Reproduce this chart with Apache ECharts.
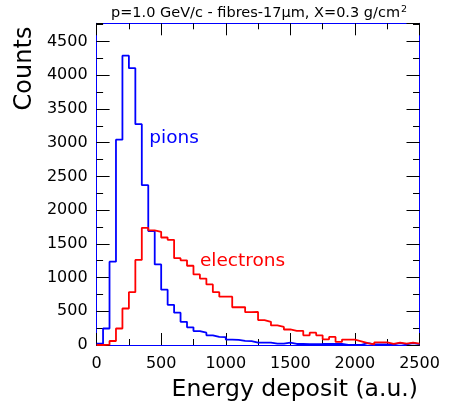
<!DOCTYPE html>
<html>
<head>
<meta charset="utf-8">
<script src="https://cdn.jsdelivr.net/npm/echarts@6/dist/echarts.min.js"></script>
<style>
  html, body { margin: 0; padding: 0; background: #fff; }
  #chart { width: 449px; height: 412px; }
</style>
</head>
<body>
<div id="chart"></div>
<script>
// Energy deposit histograms, 50 bins of 50 a.u. from 0 to 2500
const binStart = 0;
const binWidth = 50;

const pionCounts = [
  20, 245, 1235, 3045, 4290, 4105, 3275, 2370, 1690, 1195,
  820, 595, 480, 343, 262, 207, 183, 143, 120, 118,
  80, 75, 60, 58, 36, 35, 34, 20, 20, 35,
  15, 15, 14, 14, 15, 18, 15, 15, 3, 3,
  3, 28, 10, 10, 10, 8, 28, 10, 28, 12
];

const electronCounts = [
  0, 5, 59, 245, 541, 784, 1262, 1737, 1700, 1678,
  1594, 1559, 1288, 1255, 1175, 1046, 985, 898, 784, 716,
  716, 560, 562, 487, 490, 370, 343, 290, 268, 230,
  210, 210, 143, 183, 143, 84, 120, 47, 80, 80,
  55, 28, 8, 40, 40, 15, 35, 20, 35, 20
];

const xRange = [0, 2500];
const yRange = [0, 4770];

const seriesNames = ['pions', 'electrons'];
const seriesColors = ['#0000ff', '#ff0000'];

const FONT = 'DejaVu Sans';
const FRAME = '#0000ff';

// step outline: one point per bin lower edge plus the last upper edge
function histPoints(counts) {
  const pts = counts.map((c, i) => [binStart + i * binWidth, c]);
  pts.push([binStart + counts.length * binWidth, counts[counts.length - 1]]);
  return pts;
}

const plainNumber = v => String(v);

function xAx(pos, labels) {
  return {
    type: 'value', position: pos, min: xRange[0], max: xRange[1], interval: 500,
    axisLine: { show: true, onZero: false, lineStyle: { color: FRAME, width: 1 } },
    axisTick: { show: true, inside: true, length: 12, lineStyle: { color: '#000', width: 1 } },
    minorTick: { show: true, splitNumber: 2, length: 6, lineStyle: { color: '#000', width: 1 } },
    splitLine: { show: false }, minorSplitLine: { show: false },
    axisLabel: labels ? {
      show: true, margin: 11, color: '#000', fontFamily: FONT, fontSize: 16, formatter: plainNumber
    } : { show: false }
  };
}

function yAx(pos, interval, len, line, labels) {
  return {
    type: 'value', position: pos, min: yRange[0], max: yRange[1], interval: interval,
    axisLine: { show: line, onZero: false, lineStyle: { color: FRAME, width: 1 } },
    axisTick: { show: true, inside: true, length: len, lineStyle: { color: '#000', width: 1 } },
    splitLine: { show: false },
    axisLabel: labels ? {
      show: true, margin: 9, color: '#000', fontFamily: FONT, fontSize: 16,
      showMaxLabel: false, padding: [8, 0, 0, 0], formatter: plainNumber
    } : { show: false }
  };
}

const chart = echarts.init(document.getElementById('chart'), null, { renderer: 'canvas' });

chart.setOption({
  animation: false,
  backgroundColor: '#fff',
  grid: { left: 96.6, right: 29.5, top: 23.3, bottom: 67, containLabel: false },
  xAxis: [xAx('bottom', true), xAx('top', false)],
  yAxis: [
    yAx('left', 500, 13, true, true),
    yAx('left', 250, 6.5, false, false),
    yAx('right', 500, 13, true, false),
    yAx('right', 250, 6.5, false, false)
  ],
  series: [pionCounts, electronCounts].map((counts, k) => ({
    name: seriesNames[k],
    type: 'line',
    step: 'end',
    xAxisIndex: 0, yAxisIndex: 0,
    data: histPoints(counts),
    showSymbol: false,
    symbol: 'none',
    lineStyle: { color: seriesColors[k], width: 1.8 },
    z: 3 + k
  }))
});

// in-plot series labels, anchored at data coordinates (text baseline)
const labelAnchors = [[408, 2985], [800, 1165]];
const labelTexts = seriesNames.map((name, k) => {
  const p = chart.convertToPixel({ gridIndex: 0 }, labelAnchors[k]);
  return {
    type: 'text', x: p[0], y: p[1] + 4, z: 10,
    style: {
      text: name, fill: seriesColors[k], font: '18.5px "' + FONT + '"',
      textAlign: 'left', textVerticalAlign: 'bottom'
    }
  };
});

chart.setOption({
  graphic: [
    {
      type: 'text', x: 259, y: 13.5, z: 10,
      style: {
        text: '{t|p=1.0 GeV/c - fibres-17μm, X=0.3 g/cm}{s|2}',
        textAlign: 'center', textVerticalAlign: 'middle',
        rich: {
          t: { fontFamily: FONT, fontSize: 14.5, fill: '#000' },
          s: { fontFamily: FONT, fontSize: 9.5, fill: '#000', verticalAlign: 'top', padding: [0, 0, 8, 1] }
        }
      }
    },
    {
      type: 'text', x: 25, y: 68.5, rotation: Math.PI / 2, z: 10,
      style: {
        text: 'Counts', fill: '#000', font: '24px "' + FONT + '"',
        textAlign: 'center', textVerticalAlign: 'middle'
      }
    },
    {
      type: 'text', x: 418, y: 402, z: 10,
      style: {
        text: 'Energy deposit (a.u.)', fill: '#000', font: '23.5px "' + FONT + '"',
        textAlign: 'right', textVerticalAlign: 'bottom'
      }
    }
  ].concat(labelTexts)
});
</script>
</body>
</html>
